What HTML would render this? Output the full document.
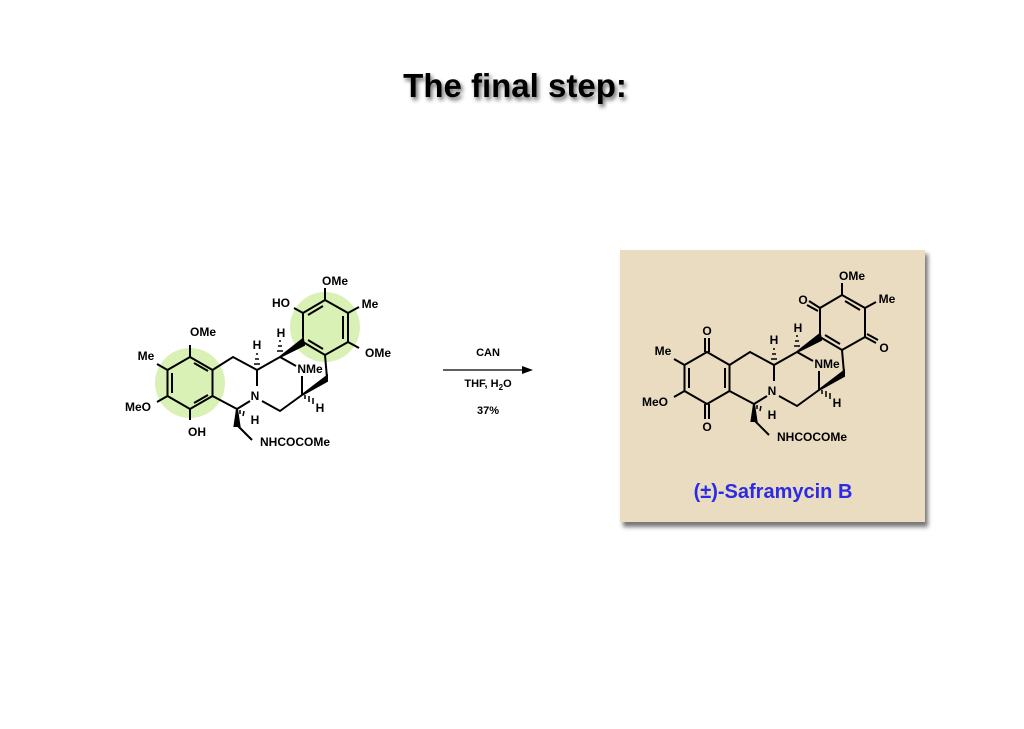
<!DOCTYPE html>
<html><head><style>
body{margin:0;background:#fff;}
svg text{font-family:"Liberation Sans",sans-serif;font-weight:bold;}
</style></head><body>
<svg width="1024" height="724" viewBox="0 0 1024 724" xmlns="http://www.w3.org/2000/svg">
<defs>
<filter id="sh" x="-10%" y="-30%" width="130%" height="180%"><feGaussianBlur in="SourceAlpha" stdDeviation="2"/><feOffset dx="2" dy="3"/><feComponentTransfer><feFuncA type="linear" slope="0.6"/></feComponentTransfer><feMerge><feMergeNode/><feMergeNode in="SourceGraphic"/></feMerge></filter>
<filter id="bs"><feGaussianBlur stdDeviation="2"/></filter>
</defs>
<text x="515" y="97" text-anchor="middle" font-size="33" fill="#000" filter="url(#sh)">The final step:</text>

<!-- card -->
<rect x="623" y="254" width="305" height="273" fill="#777" filter="url(#bs)"/>
<rect x="620" y="250" width="305" height="272" fill="#e9dcc0"/>
<text x="773" y="498" text-anchor="middle" font-size="20" fill="#2b2be6">(±)-Saframycin B</text>

<!-- green highlights -->
<circle cx="190" cy="383" r="35" fill="#d9f1b4"/>
<circle cx="325" cy="327" r="35" fill="#d9f1b4"/>

<g stroke="#000" stroke-width="2" fill="none" font-size="12">
<!-- LEFT MOLECULE -->
<g>
<polygon points="190,357 212.5,370 212.5,396 190,409 167.5,396 167.5,370"/>
<line x1="194" y1="363" x2="208" y2="371"/><line x1="172" y1="373" x2="172" y2="393"/><line x1="194" y1="403" x2="208" y2="395"/>
<polygon points="303,342 303,313 325,300 348,313 348,342 325,355"/>
<line x1="308" y1="315" x2="323" y2="306"/><line x1="343" y1="316" x2="343" y2="339"/><line x1="308" y1="340" x2="323" y2="349"/>
<line x1="190" y1="357" x2="190" y2="345"/><line x1="167.5" y1="370" x2="157" y2="364"/><line x1="167.5" y1="396" x2="157" y2="402"/><line x1="190" y1="409" x2="190" y2="420"/>
<line x1="325" y1="300" x2="325" y2="288"/><line x1="303" y1="313" x2="294" y2="308"/><line x1="348" y1="313" x2="359" y2="307"/><line x1="348" y1="342" x2="359" y2="348"/>
</g>
<g stroke="none" fill="#000">
<text x="203" y="336" text-anchor="middle">OMe</text><text x="146" y="360" text-anchor="middle">Me</text>
<text x="138" y="411" text-anchor="middle">MeO</text><text x="197" y="436" text-anchor="middle">OH</text>
<text x="335" y="285" text-anchor="middle">OMe</text><text x="281" y="307" text-anchor="middle">HO</text>
<text x="370" y="308" text-anchor="middle">Me</text><text x="378" y="357" text-anchor="middle">OMe</text>
</g>

<!-- RIGHT MOLECULE rings -->
<g transform="translate(517,-5)">
<polygon points="190,357 212.5,370 212.5,396 190,409 167.5,396 167.5,370"/>
<line x1="208" y1="373" x2="208" y2="393"/><line x1="172" y1="373" x2="172" y2="393"/>
<polygon points="303,342 303,313 325,300 348,313 348,342 325,355"/>
<line x1="328" y1="306" x2="343" y2="315"/><line x1="308" y1="340" x2="323" y2="349"/>
<line x1="188" y1="357" x2="188" y2="343"/><line x1="192" y1="357" x2="192" y2="343"/>
<line x1="188" y1="409" x2="188" y2="424"/><line x1="192" y1="409" x2="192" y2="424"/>
<line x1="167.5" y1="370" x2="157" y2="364"/><line x1="167.5" y1="396" x2="157" y2="402"/>
<line x1="325" y1="300" x2="325" y2="288"/><line x1="348" y1="313" x2="359" y2="307"/>
<line x1="303" y1="313" x2="292" y2="306"/><line x1="301" y1="316" x2="290" y2="310"/>
<line x1="348" y1="342" x2="359" y2="348"/><line x1="350" y1="339" x2="361" y2="345"/>
<g stroke="none" fill="#000">
<text x="190" y="340" text-anchor="middle">O</text><text x="190" y="436" text-anchor="middle">O</text>
<text x="146" y="360" text-anchor="middle">Me</text><text x="138" y="411" text-anchor="middle">MeO</text>
<text x="335" y="285" text-anchor="middle">OMe</text><text x="286" y="309" text-anchor="middle">O</text>
<text x="370" y="308" text-anchor="middle">Me</text><text x="367" y="357" text-anchor="middle">O</text>
</g>
</g>

<!-- common skeleton, both molecules -->
<g id="sk">
<polyline points="212.5,370 233,357 257,370 257,386"/>
<line x1="212.5" y1="396" x2="237" y2="409"/><line x1="237" y1="409" x2="250" y2="401"/>
<line x1="257" y1="370" x2="280" y2="357"/>
<line x1="280" y1="357" x2="296" y2="366"/>
<line x1="302" y1="376" x2="302" y2="395"/>
<polyline points="262,401 280,411 302,395"/>
<line x1="325" y1="355" x2="327" y2="378"/>
<line x1="237" y1="425" x2="252" y2="440"/>
<polygon points="280,357 303,339 304,345" fill="#000"/>
<polygon points="327,376 327,381 302,395" fill="#000"/>
<polygon points="237,409 234.5,426 239.5,426" fill="#000"/>
<g stroke-width="1.5">
<line x1="254" y1="364" x2="260" y2="364"/><line x1="255" y1="359" x2="259" y2="359"/><line x1="256" y1="354" x2="258" y2="354"/>
<line x1="277" y1="351" x2="283" y2="351"/><line x1="278" y1="346" x2="282" y2="346"/><line x1="279" y1="341" x2="281" y2="341"/>
<line x1="305" y1="395" x2="305" y2="399"/><line x1="309" y1="396" x2="309" y2="402"/><line x1="313" y1="398" x2="313" y2="404"/>
<line x1="240" y1="410" x2="240" y2="414"/><line x1="244" y1="411" x2="243" y2="416"/>
</g>
<g stroke="none" fill="#000">
<text x="257" y="349" text-anchor="middle">H</text><text x="281" y="337" text-anchor="middle">H</text>
<text x="255" y="400" text-anchor="middle">N</text><text x="310" y="373" text-anchor="middle">NMe</text>
<text x="320" y="412" text-anchor="middle">H</text><text x="255" y="424" text-anchor="middle">H</text>
<text x="295" y="446" text-anchor="middle">NHCOCOMe</text>
</g>
</g>
<use href="#sk" transform="translate(517,-5)"/>

<!-- arrow -->
<line x1="443" y1="370" x2="524" y2="370" stroke-width="1.3"/>
<polygon points="533,370 522,366 522,374" fill="#000" stroke="none"/>
<g stroke="none" fill="#000" font-size="11">
<text x="488" y="356" text-anchor="middle">CAN</text>
<text x="488" y="387" text-anchor="middle">THF, H<tspan font-size="8" dy="3">2</tspan><tspan dy="-3">O</tspan></text>
<text x="488" y="414" text-anchor="middle">37%</text>
</g>
</g>
</svg>
</body></html>
